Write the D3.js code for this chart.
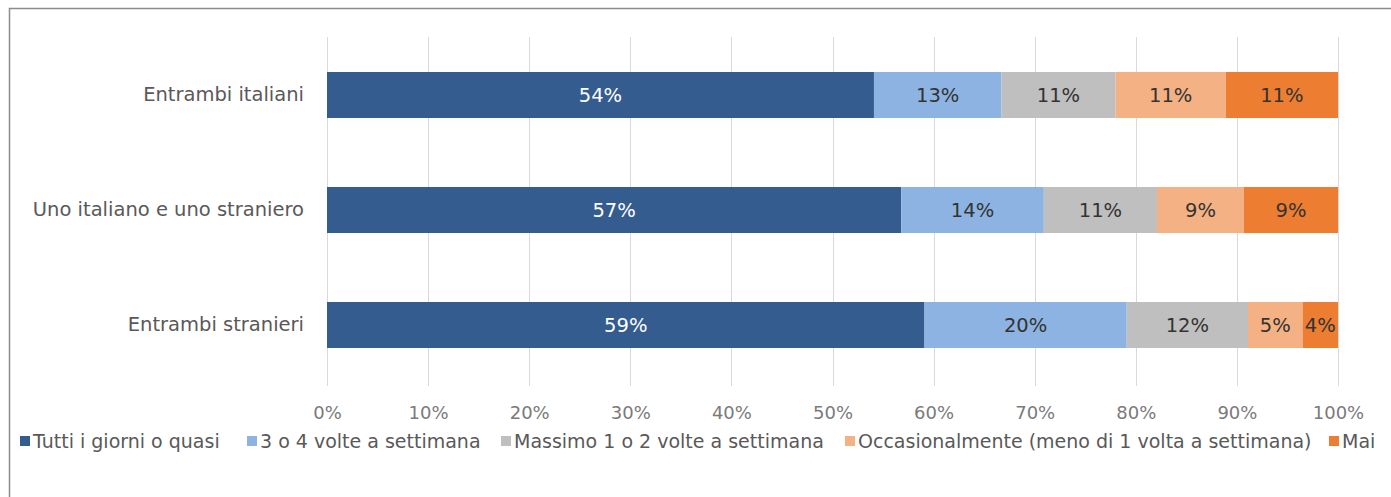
<!DOCTYPE html>
<html><head><meta charset="utf-8">
<script src="https://cdn.jsdelivr.net/npm/d3@7"></script>
<style>body{margin:0;background:#fff;} svg{display:block;font-family:"DejaVu Sans",sans-serif;}</style>
</head><body>
<svg id="c" width="1391" height="497"></svg>
<script>
const categories = ["Entrambi italiani", "Uno italiano e uno straniero", "Entrambi stranieri"];
const seriesNames = ["Tutti i giorni o quasi", "3 o 4 volte a settimana", "Massimo 1 o 2 volte a settimana", "Occasionalmente (meno di 1 volta a settimana)", "Mai"];
const tuttiGiorni = [54.1, 56.8, 59.1];
const treQuattro = [12.6, 14.1, 20.0];
const massimoUnoDue = [11.3, 11.2, 12.0];
const occasionalmente = [10.9, 8.6, 5.4];
const mai = [11.1, 9.3, 3.5];
const xTicks = [0, 10, 20, 30, 40, 50, 60, 70, 80, 90, 100];
const colors = ["#345C8F", "#8DB3E2", "#BFBFBF", "#F4B183", "#ED7D31"];
const labelColors = ["#ffffff", "#333333", "#333333", "#333333", "#333333"];

const seriesValues = [tuttiGiorni, treQuattro, massimoUnoDue, occasionalmente, mai];
const rows = categories.map((c, i) => {
  const o = {cat: c};
  seriesNames.forEach((s, j) => o[s] = seriesValues[j][i]);
  return o;
});
const stacked = d3.stack().keys(seriesNames)(rows);

const svg = d3.select("#c");
svg.append("rect").attr("x", 9.5).attr("y", 8.5).attr("width", 1400).attr("height", 520)
  .attr("fill", "none").attr("stroke", "#8c8c8c").attr("stroke-width", 1.5);

const x = d3.scaleLinear().domain([0, 100]).range([327, 1338]);
const y = d3.scaleBand().domain(categories).range([37.5, 382.5]).paddingInner(0.6).paddingOuter(0.3);

svg.append("g").selectAll("line").data(xTicks).join("line")
  .attr("x1", d => Math.round(x(d)) + 0.5).attr("x2", d => Math.round(x(d)) + 0.5)
  .attr("y1", 37).attr("y2", 386).attr("stroke", "#d9d9d9").attr("stroke-width", 1);

const xAxis = d3.axisBottom(x).tickValues(xTicks).tickFormat(d => d + "%").tickSize(0).tickPadding(0);
const gx = svg.append("g").attr("transform", "translate(0,406)").call(xAxis);
gx.select(".domain").remove();
gx.selectAll("text").attr("fill", "#7a7a7a").style("font-size", "18px").style("font-family", "DejaVu Sans, sans-serif");

const yAxis = d3.axisLeft(y).tickSize(0).tickPadding(0);
const gy = svg.append("g").attr("transform", "translate(304,0)").call(yAxis);
gy.select(".domain").remove();
gy.selectAll("text").attr("fill", "#595959").style("font-size", "19.5px").style("font-family", "DejaVu Sans, sans-serif");

const layers = svg.append("g").selectAll("g").data(stacked).join("g")
  .attr("fill", (d, i) => colors[i]);
layers.selectAll("rect").data(d => d).join("rect")
  .attr("x", d => x(d[0])).attr("width", d => x(d[1]) - x(d[0]))
  .attr("y", d => y(d.data.cat)).attr("height", y.bandwidth());

const lbl = svg.append("g").selectAll("g").data(stacked).join("g");
lbl.each(function(s, i) {
  d3.select(this).selectAll("text").data(s).join("text")
    .attr("x", d => (x(d[0]) + x(d[1])) / 2)
    .attr("y", d => y(d.data.cat) + y.bandwidth() / 2)
    .attr("dy", "0.36em").attr("text-anchor", "middle")
    .attr("fill", labelColors[i]).style("font-size", "19.5px")
    .text(d => Math.round(d[1] - d[0]) + "%");
});

const legendX = [20, 247, 501, 845, 1329];
const lg = svg.append("g").selectAll("g").data(seriesNames).join("g")
  .attr("transform", (d, i) => `translate(${legendX[i]},441)`);
lg.append("rect").attr("x", 0).attr("y", -5).attr("width", 10).attr("height", 10).attr("fill", (d, i) => colors[i]);
lg.append("text").attr("x", 13).attr("dy", "0.36em").attr("fill", "#595959").style("font-size", "19px").text(d => d);
</script>
</body></html>
